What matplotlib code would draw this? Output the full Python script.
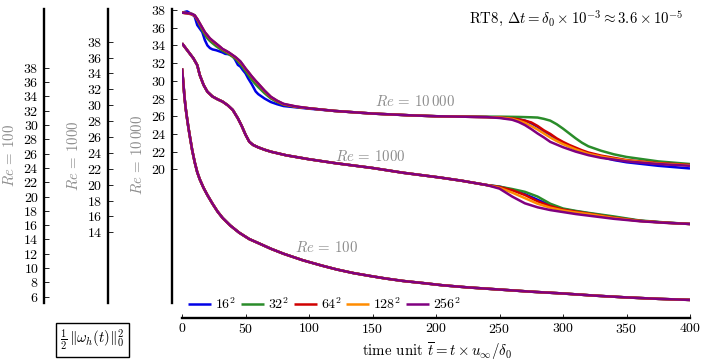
import matplotlib
matplotlib.use('Agg')
import matplotlib.pyplot as plt

plt.rcParams['font.family'] = 'serif'
plt.rcParams['font.serif'] = ['cmr10']
plt.rcParams['mathtext.fontset'] = 'cm'
plt.rcParams['axes.formatter.use_mathtext'] = True

# ---------------- data ----------------
resolutions = ['$16^2$', '$32^2$', '$64^2$', '$128^2$', '$256^2$']
colors = ['#0000e6', '#2a8c2a', '#d00000', '#ff8c00', '#800080']

# Re = 100 (all resolutions coincide)
t_re100 = [0, 1, 2, 3, 4, 5, 6, 8, 10, 12, 14, 17, 20, 24, 28, 32, 38, 45, 53, 60,
           70, 80, 95, 110, 122, 135, 148, 160, 174, 190, 205, 225, 250, 275, 300,
           325, 350, 375, 400]
re100_all = [37.9, 36.0, 33.8, 32.2, 30.9, 29.7, 28.6, 26.5, 24.8, 23.4, 22.4, 21.2,
             20.2, 19.0, 17.9, 17.0, 15.95, 14.95, 14.05, 13.5, 12.7, 12.0, 11.1,
             10.35, 9.8, 9.3, 8.9, 8.55, 8.2, 7.9, 7.6, 7.3, 7.0, 6.7, 6.45, 6.15,
             5.9, 5.7, 5.55]

# Re = 1000: common start, resolutions split after t = 240
t_re1000 = [0, 4, 9, 12, 14, 17, 20, 24, 28, 32, 36, 40, 44, 47, 50, 53, 56, 60, 65,
            70, 82, 100, 121, 150, 174, 203, 220, 240, 250, 260, 270, 280, 290, 300,
            310, 320, 340, 360, 380, 400]
re1000_common = [37.8, 36.95, 35.9, 35.05, 33.8, 32.55, 31.7, 31.1, 30.75, 30.45,
                 30.0, 29.4, 28.35, 27.4, 26.3, 25.4, 25.0, 24.7, 24.4, 24.15, 23.7,
                 23.2, 22.7, 22.1, 21.5, 20.9, 20.5, 19.95]
re1000_late_16 = [19.75, 19.35, 18.8, 18.1, 17.4, 16.9, 16.65, 16.4, 15.9, 15.45, 15.22, 15.05]
re1000_late_32 = [19.75, 19.45, 19.1, 18.5, 17.6, 17.0, 16.7, 16.45, 16.0, 15.5, 15.25, 15.05]
re1000_late_64 = [19.7, 19.3, 18.7, 17.9, 17.3, 16.85, 16.6, 16.35, 15.85, 15.45, 15.22, 15.05]
re1000_late_128 = [19.6, 19.0, 18.3, 17.6, 17.1, 16.75, 16.5, 16.3, 15.8, 15.42, 15.2, 15.05]
re1000_late_256 = [19.5, 18.5, 17.65, 17.15, 16.8, 16.55, 16.3, 16.1, 15.7, 15.4, 15.2, 15.05]

# Re = 10000
t_re10000 = [0, 4, 8, 10, 12, 14, 16, 18, 20, 22, 24, 27, 30, 32, 34, 37, 40, 42, 44,
             46, 48, 50, 52, 55, 58, 60, 65, 70, 75, 80, 90, 100, 120, 150, 180, 200,
             220, 240, 250, 260, 265, 270, 275, 280, 285, 290, 295, 300, 305, 310,
             315, 320, 330, 340, 350, 375, 400]
re10000_16 = [37.7, 37.85, 37.5, 37.25, 36.3, 35.9, 35.5, 34.6, 34.0, 33.7, 33.55,
              33.45, 33.3, 33.2, 33.05, 33.0, 32.8, 32.35, 31.8, 31.6, 31.2, 30.85,
              30.3, 29.6, 28.8, 28.5, 28.0, 27.6, 27.35, 27.15, 27.0, 26.85, 26.6,
              26.3, 26.1, 26.0, 25.95, 25.9, 25.85, 25.75, 25.65, 25.5, 25.2, 24.8,
              24.3, 23.9, 23.4, 23.0, 22.6, 22.3, 22.0, 21.75, 21.4, 21.05, 20.8,
              20.4, 20.1]
re10000_32 = [37.7, 37.65, 37.55, 37.4, 36.9, 36.3, 35.7, 35.2, 34.8, 34.5, 34.25,
              33.9, 33.6, 33.4, 33.25, 33.0, 32.7, 32.5, 32.2, 31.9, 31.5, 31.1, 30.7,
              30.1, 29.6, 29.3, 28.6, 28.0, 27.6, 27.3, 27.05, 26.9, 26.6, 26.3, 26.1,
              26.0, 25.97, 25.95, 25.95, 25.93, 25.92, 25.9, 25.88, 25.85, 25.7, 25.5,
              25.1, 24.6, 24.05, 23.5, 23.0, 22.6, 22.1, 21.7, 21.4, 20.9, 20.6]
re10000_64 = [37.7, 37.62, 37.5, 37.35, 36.95, 36.45, 35.95, 35.45, 35.1, 34.75,
              34.5, 34.15, 33.8, 33.55, 33.4, 33.15, 32.85, 32.65, 32.4, 32.1, 31.75,
              31.35, 31.0, 30.45, 29.95, 29.65, 28.85, 28.15, 27.7, 27.35, 27.07,
              26.9, 26.6, 26.3, 26.1, 26.0, 25.95, 25.9, 25.85, 25.75, 25.65, 25.5,
              25.3, 24.9, 24.4, 24.0, 23.5, 23.1, 22.75, 22.45, 22.15, 21.9, 21.55,
              21.3, 21.05, 20.7, 20.5]
re10000_128 = [37.7, 37.64, 37.53, 37.38, 36.98, 36.48, 35.98, 35.48, 35.13, 34.78,
               34.53, 34.18, 33.83, 33.58, 33.43, 33.18, 32.88, 32.68, 32.43, 32.15,
               31.78, 31.38, 31.03, 30.48, 29.98, 29.68, 28.88, 28.18, 27.73, 27.38,
               27.08, 26.9, 26.6, 26.3, 26.1, 26.0, 25.95, 25.9, 25.85, 25.7, 25.5,
               25.25, 24.9, 24.5, 24.05, 23.6, 23.2, 22.85, 22.55, 22.25, 22.0, 21.75,
               21.45, 21.2, 21.0, 20.65, 20.45]
re10000_256 = [37.7, 37.65, 37.55, 37.4, 37.0, 36.5, 36.0, 35.5, 35.15, 34.8, 34.55,
               34.2, 33.85, 33.6, 33.45, 33.2, 32.9, 32.7, 32.45, 32.2, 31.8, 31.4,
               31.05, 30.5, 30.0, 29.7, 28.9, 28.2, 27.75, 27.4, 27.1, 26.9, 26.6,
               26.3, 26.1, 26.0, 25.95, 25.9, 25.8, 25.6, 25.35, 25.0, 24.55, 24.05,
               23.6, 23.1, 22.8, 22.5, 22.25, 22.0, 21.8, 21.6, 21.3, 21.1, 20.9,
               20.6, 20.4]

re1000_series = [re1000_common + re1000_late_16, re1000_common + re1000_late_32,
                 re1000_common + re1000_late_64, re1000_common + re1000_late_128,
                 re1000_common + re1000_late_256]
re10000_series = [re10000_16, re10000_32, re10000_64, re10000_128, re10000_256]

x_ticks = [0, 50, 100, 150, 200, 250, 300, 350, 400]
ticks_re100 = list(range(6, 39, 2))
ticks_re1000 = list(range(14, 39, 2))
ticks_re10000 = list(range(20, 39, 2))

# ---------------- figure ----------------
W, H = 706, 364
fig = plt.figure(figsize=(W / 100, H / 100), dpi=100)
rect = [182 / W, 1 - 303 / H, 508 / W, (303 - 9.3) / H]

GREY = '#8c8c8c'
FS = 10
TFS = 10.7
LW = 1.8
SPINE_LW = 1.7

ax100 = fig.add_axes(rect)
ax1000 = fig.add_axes(rect, sharex=ax100)
ax10k = fig.add_axes(rect, sharex=ax100)

for ax, ylim, ticks, offset in [(ax100, (5.12, 46.16), ticks_re100, 99.1),
                                (ax1000, (5.1, 42.08), ticks_re1000, 53.5),
                                (ax10k, (4.9, 38.08), ticks_re10000, 7.4)]:
    ax.patch.set_visible(False)
    ax.set_xlim(0, 400)
    ax.set_ylim(*ylim)
    ax.set_yticks(ticks)
    ax.spines['top'].set_visible(False)
    ax.spines['right'].set_visible(False)
    ax.spines['left'].set_position(('outward', offset))
    ax.spines['left'].set_linewidth(SPINE_LW)
    ax.tick_params(axis='y', direction='in', length=3.5, width=0.6, pad=4,
                   labelsize=FS)
    if ax is not ax10k:
        ax.spines['bottom'].set_visible(False)
        ax.tick_params(axis='x', bottom=False, labelbottom=False)

ax10k.spines['bottom'].set_position(('outward', 10.8))
ax10k.spines['bottom'].set_linewidth(SPINE_LW)
ax10k.set_xticks(x_ticks)
ax10k.tick_params(axis='x', direction='in', length=3, width=0.6, pad=3,
                  labelsize=FS)

# curves
for vals, c in zip([re100_all] * 5, colors):
    ax100.plot(t_re100, vals, color=c, lw=LW, solid_capstyle='butt')
for vals, c in zip(re1000_series, colors):
    ax1000.plot(t_re1000, vals, color=c, lw=LW, solid_capstyle='butt')
handles = []
for vals, c, lab in zip(re10000_series, colors, resolutions):
    h, = ax10k.plot(t_re10000, vals, color=c, lw=LW, label=lab,
                    solid_capstyle='butt')
    handles.append(h)

# in-plot labels
ax10k.text(183.5, 27.7, r'$Re\,=\,10\,000$', color=GREY, fontsize=TFS,
           ha='center', va='center')
ax1000.text(148, 23.5, r'$Re\,=\,1000$', color=GREY, fontsize=TFS,
            ha='center', va='center')
ax100.text(113.5, 12.9, r'$Re\,=\,100$', color=GREY, fontsize=TFS,
           ha='center', va='center')

leg = ax10k.legend(handles=handles, loc='center left',
                   bbox_to_anchor=(6 / 508, -0.004), ncol=5, frameon=False,
                   fontsize=FS, handlelength=1.65, handletextpad=0.3,
                   columnspacing=0.35, borderpad=0, borderaxespad=0)

# y axis labels
fig.text(9.5 / W, 1 - 156 / H, r'$Re\,=\,100$', color=GREY, fontsize=TFS,
         rotation=90, ha='center', va='center')
fig.text(74 / W, 1 - 156 / H, r'$Re\,=\,1000$', color=GREY, fontsize=TFS,
         rotation=90, ha='center', va='center')
fig.text(137.5 / W, 1 - 155 / H, r'$Re\,=\,10\,000$', color=GREY, fontsize=TFS,
         rotation=90, ha='center', va='center')

# boxed quantity label
fig.text(92.5 / W, 1 - 340 / H, r'$\frac{1}{2}\,\Vert\omega_h(t)\Vert_0^2$',
         fontsize=TFS, ha='center', va='center',
         bbox=dict(boxstyle='square,pad=0.3', fc='white', ec='black', lw=1.0))

# title and x label
fig.text(683 / W, 1 - 19 / H,
         r'RT8, $\Delta t = \delta_0 \times 10^{-3} \approx 3.6 \times 10^{-5}$',
         fontsize=TFS, ha='right', va='center')
fig.text(437 / W, 1 - 351 / H,
         r'time unit $\overline{t} = t \times u_\infty/\delta_0$',
         fontsize=TFS, ha='center', va='center')

fig.savefig('out.png', dpi=100, facecolor='white')
